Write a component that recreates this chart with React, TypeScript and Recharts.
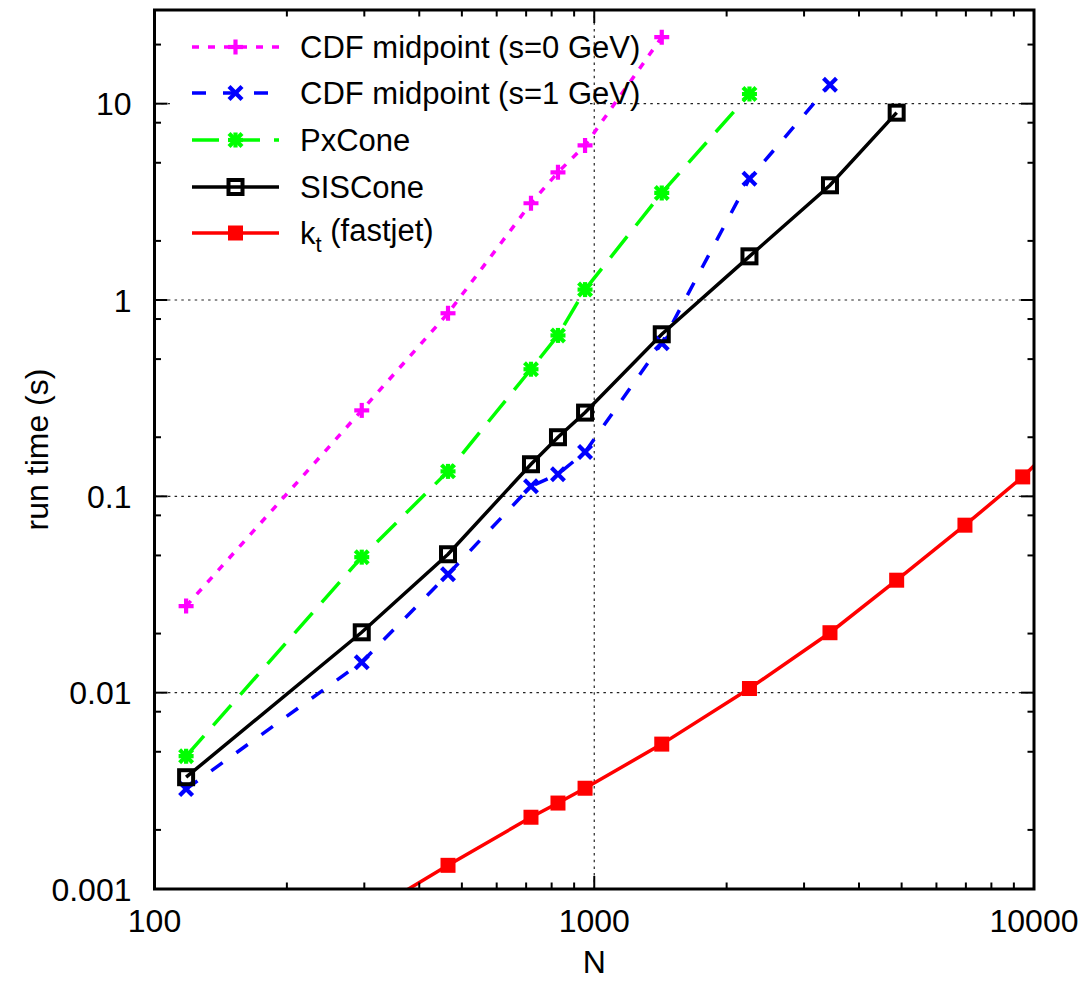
import { LineChart, Line, XAxis, YAxis, ReferenceLine, Legend } from 'recharts'

// particle multiplicity N at which each timing was taken
const N_VALUES = [118, 296, 465, 718, 827, 953, 1424, 2254, 3436, 4872, 6966, 9426, 14000]

// run times (s), starting at N_VALUES[0] unless noted
const CDF_S0 = [0.0276, 0.274, 0.856, 3.11, 4.47, 6.13, 21.8]
const CDF_S1 = [0.00323, 0.0143, 0.0401, 0.1125, 0.1297, 0.168, 0.602, 4.15, 12.5]
const PXCONE = [0.00475, 0.049, 0.134, 0.444, 0.66, 1.13, 3.51, 11.2]
const SISCONE = [0.00371, 0.0203, 0.0507, 0.1457, 0.2, 0.267, 0.669, 1.669, 3.84, 9.0]
const KT = [0.00072, 0.00132, 0.00232, 0.00274, 0.00326, 0.00547, 0.0105, 0.0202, 0.0374, 0.0713, 0.1256, 0.3] // from N_VALUES[1]

const X_DOMAIN = [100, 10000]
const Y_DOMAIN = [0.001, 30]
const X_TICKS = [100, 200, 300, 400, 500, 600, 700, 800, 900, 1000, 2000, 3000, 4000, 5000, 6000, 7000, 8000, 9000, 10000]
const X_MAJOR = [100, 1000, 10000]
const Y_TICKS = [0.001, 0.002, 0.005, 0.008, 0.01, 0.02, 0.05, 0.08, 0.1, 0.2, 0.5, 0.8, 1, 2, 5, 8, 10, 20]
const Y_MAJOR = [0.001, 0.01, 0.1, 1, 10]
const X_GRID = [1000]
const Y_GRID = [10, 1, 0.1, 0.01]

const FONT = '"Liberation Sans", Arial, Helvetica, sans-serif'
const W = 1083
const H = 974
const PL = 146.5
const PR = 1026
const PT = 2
const PB = 881
const LW = 3.5

type Kind = 'plus' | 'cross' | 'star' | 'openSquare' | 'square'

const toRows = (vals: number[], start = 0) => vals.map((t, i) => ({ n: N_VALUES[start + i], t }))

const SERIES = [
  { name: 'CDF midpoint (s=0 GeV)', data: toRows(CDF_S0), color: '#ff00ff', dash: '7 9', kind: 'plus' as Kind },
  { name: 'CDF midpoint (s=1 GeV)', data: toRows(CDF_S1), color: '#0000ff', dash: '14 17', kind: 'cross' as Kind },
  { name: 'PxCone', data: toRows(PXCONE), color: '#00ff00', dash: '27 14', kind: 'star' as Kind },
  { name: 'SISCone', data: toRows(SISCONE), color: '#000000', dash: undefined, kind: 'openSquare' as Kind },
  { name: 'kt', data: toRows(KT, 1), color: '#ff0000', dash: undefined, kind: 'square' as Kind },
]

function Marker({ kind, cx, cy, color }: { kind: Kind; cx: number; cy: number; color: string }) {
  if (cx == null || cy == null || isNaN(cx) || isNaN(cy)) return <g />
  const plus = (
    <g stroke={color} strokeWidth={4.2}>
      <line x1={cx - 7.5} y1={cy} x2={cx + 7.5} y2={cy} />
      <line x1={cx} y1={cy - 7.5} x2={cx} y2={cy + 7.5} />
    </g>
  )
  const cross = (
    <g stroke={color} strokeWidth={4.2}>
      <line x1={cx - 6.5} y1={cy - 6.5} x2={cx + 6.5} y2={cy + 6.5} />
      <line x1={cx - 6.5} y1={cy + 6.5} x2={cx + 6.5} y2={cy - 6.5} />
    </g>
  )
  switch (kind) {
    case 'plus':
      return plus
    case 'cross':
      return cross
    case 'star':
      return (
        <g>
          {plus}
          {cross}
        </g>
      )
    case 'openSquare':
      return <rect x={cx - 7} y={cy - 7} width={14} height={14} fill="none" stroke={color} strokeWidth={4} />
    default:
      return <rect x={cx - 7.5} y={cy - 7.5} width={15} height={15} fill={color} />
  }
}

const XTick = (props: any) => {
  const { x, payload } = props
  const v = payload.value
  const major = X_MAJOR.includes(v)
  const len = major ? 13 : 6.5
  return (
    <g>
      <line x1={x} y1={PB} x2={x} y2={PB - len} stroke="#000" strokeWidth={2} />
      <line x1={x} y1={PT} x2={x} y2={PT + len} stroke="#000" strokeWidth={2} />
      {major && (
        <text x={x} y={PB + 43} textAnchor="middle" fontSize={32} fontFamily={FONT} fill="#000">
          {v}
        </text>
      )}
    </g>
  )
}

const YTick = (props: any) => {
  const { y, payload } = props
  const v = payload.value
  const major = Y_MAJOR.includes(v)
  const len = major ? 13 : 6.5
  return (
    <g>
      <line x1={PL} y1={y} x2={PL + len} y2={y} stroke="#000" strokeWidth={2} />
      <line x1={PR} y1={y} x2={PR - len} y2={y} stroke="#000" strokeWidth={2} />
      {major && (
        <text x={PL - 23} y={y} dy="0.36em" textAnchor="end" fontSize={32} fontFamily={FONT} fill="#000">
          {String(v)}
        </text>
      )}
    </g>
  )
}

const ROW_Y = [39, 85, 132, 179, 225]

// key, plus the plot border drawn on top as gnuplot does
function KeyBox() {
  return (
    <svg width={W} height={H} style={{ display: 'block' }}>
      <rect x={162} y={12} width={418} height={92} fill="#fff" />
      <rect x={PL} y={PT} width={PR - PL} height={PB - PT} fill="none" stroke="#000" strokeWidth={3} />
      {SERIES.map((s, i) => {
        const y = ROW_Y[i]
        return (
          <g key={s.name}>
            <line x1={184} y1={y} x2={271} y2={y} stroke={s.color} strokeWidth={LW} strokeDasharray={s.dash} />
            <Marker kind={s.kind} cx={227.5} cy={y} color={s.color} />
            <text x={292} y={y} dy="0.36em" fontSize={31} fontFamily={FONT} fill="#000">
              {s.name === 'kt' ? (
                <>
                  k<tspan fontSize={22} dy="0.35em">t</tspan>
                  <tspan dy="-0.35em"> (fastjet)</tspan>
                </>
              ) : (
                s.name
              )}
            </text>
          </g>
        )
      })}
    </svg>
  )
}

export default function App() {
  return (
    <LineChart width={W} height={H} margin={{ top: PT, right: W - PR, bottom: 0, left: 0 }}>
      <XAxis
        dataKey="n"
        type="number"
        scale="log"
        domain={X_DOMAIN}
        allowDataOverflow
        ticks={X_TICKS}
        interval={0}
        tick={XTick}
        tickLine={false}
        height={H - PB}
        axisLine={{ stroke: '#000', strokeWidth: 2 }}
        label={() => (
          <text x={(PL + PR) / 2} y={965} textAnchor="middle" fontSize={32} fontFamily={FONT} fill="#000">
            N
          </text>
        )}
      />
      <YAxis
        type="number"
        scale="log"
        domain={Y_DOMAIN}
        allowDataOverflow
        ticks={Y_TICKS}
        interval={0}
        tick={YTick}
        tickLine={false}
        width={PL}
        axisLine={{ stroke: '#000', strokeWidth: 2 }}
        label={() => (
          <text
            x={40}
            y={(PT + PB) / 2}
            transform={`rotate(-90 40 ${(PT + PB) / 2})`}
            textAnchor="middle"
            fontSize={32}
            fontFamily={FONT}
            fill="#000"
          >
            run time (s)
          </text>
        )}
      />
      {Y_GRID.map((v) => (
        <ReferenceLine key={'y' + v} y={v} stroke="#222" strokeWidth={1.2} strokeDasharray="2.5 4.2" />
      ))}
      {X_GRID.map((v) => (
        <ReferenceLine key={'x' + v} x={v} stroke="#222" strokeWidth={1.2} strokeDasharray="2.5 4.2" />
      ))}
      {SERIES.map((s) => (
        <Line
          key={s.name}
          data={s.data}
          dataKey="t"
          name={s.name}
          type="linear"
          stroke={s.color}
          strokeWidth={LW}
          strokeDasharray={s.dash}
          isAnimationActive={false}
          dot={(p: any) => <Marker key={s.name + p.index} kind={s.kind} cx={p.cx} cy={p.cy} color={s.color} />}
          activeDot={false}
        />
      ))}
      <Legend
        layout="vertical"
        align="center"
        verticalAlign="middle"
        wrapperStyle={{ left: 0, top: 0, width: W, height: H, pointerEvents: 'none' }}
        content={() => <KeyBox />}
      />
    </LineChart>
  )
}
